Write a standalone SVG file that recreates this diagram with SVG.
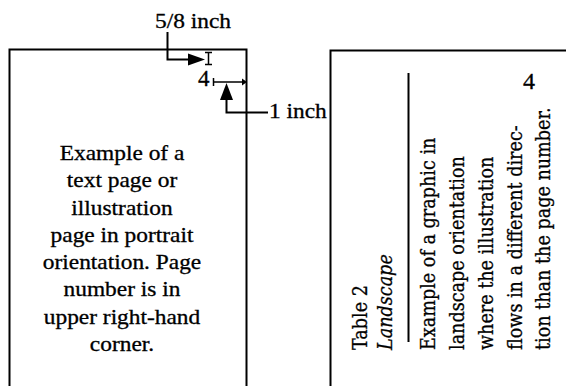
<svg xmlns="http://www.w3.org/2000/svg" width="566" height="386" viewBox="0 0 566 386">
  <defs>
    <style>
      .page { fill: none; stroke: #000; stroke-width: 2; }
      .ln { fill: none; stroke: #000; stroke-width: 2; }
      .thin { fill: none; stroke: #000; stroke-width: 1.5; }
      .head { fill: #000; stroke: none; }
      text { fill: #000; stroke: #000; stroke-width: 0.3; }
      .t { font-family: 'Liberation Serif', 'Times New Roman', serif; font-size: 20px; }
      .r { font-family: 'DejaVu Serif', 'Liberation Serif', serif; font-size: 20px; }
    </style>
  </defs>
  <rect width="566" height="386" fill="#fff"/>

  <g id="portrait-page">
    <path class="page" d="M9.5,386 V49.5 H246.5 V386"/>
    <text class="t" x="198" y="86" style="font-size:23px">4</text>
    <g transform="translate(122,0) scale(1.17,1)" text-anchor="middle">
      <text class="t" x="0" y="160">Example of a</text>
      <text class="t" x="0" y="187.3">text page or</text>
      <text class="t" x="0" y="214.6">illustration</text>
      <text class="t" x="0" y="241.9">page in portrait</text>
      <text class="t" x="0" y="269.2">orientation. Page</text>
      <text class="t" x="0" y="296.5">number is in</text>
      <text class="t" x="0" y="323.8">upper right-hand</text>
      <text class="t" x="0" y="351.1">corner.</text>
    </g>
  </g>

  <g id="landscape-page">
    <path class="page" d="M330.5,386 V50.5 H566"/>
    <text class="t" x="523" y="89" style="font-size:24px">4</text>
    <line class="ln" x1="408.5" y1="73" x2="408.5" y2="342"/>
    <g transform="translate(366.5,350) rotate(-90) scale(0.88,1)"><text class="r" x="0" y="0">Table 2</text></g>
    <g transform="translate(391.5,350) rotate(-90) scale(0.88,1)"><text class="r" x="0" y="0" font-style="italic">Landscape</text></g>
    <g transform="translate(435,350) rotate(-90) scale(0.88,1)"><text class="r" x="0" y="0">Example of a graphic in</text></g>
    <g transform="translate(464,350) rotate(-90) scale(0.88,1)"><text class="r" x="0" y="0">landscape orientation</text></g>
    <g transform="translate(492.7,350) rotate(-90) scale(0.88,1)"><text class="r" x="0" y="0">where the illustration</text></g>
    <g transform="translate(521.7,350) rotate(-90) scale(0.88,1)"><text class="r" x="0" y="0">flows in a different direc-</text></g>
    <g transform="translate(550,350) rotate(-90) scale(0.88,1)"><text class="r" x="0" y="0">tion than the page number.</text></g>
  </g>

  <g id="label-five-eighths">
    <text class="t" transform="translate(155,28) scale(1.17,1)" x="0" y="0">5/8 inch</text>
  </g>
  <g id="label-one-inch">
    <text class="t" transform="translate(269,118) scale(1.17,1)" x="0" y="0">1 inch</text>
  </g>

  <g id="connectors">
    <path class="ln" d="M167.5,32 V59.5 H190"/>
    <polygon class="head" points="205,59.5 188,53.5 188,65.5"/>
    <path class="thin" d="M205,52.5 H212 M208.5,52.5 V64.5 M205,64.5 H212"/>
    <path class="thin" d="M213.5,78 V86 M213.5,82 H244"/>
    <polygon class="head" points="247,82 242,78.5 242,85.5"/>
    <polygon class="head" points="226.5,83 220,100 233,100"/>
    <path class="ln" d="M226.5,99 V112.5 H268"/>
  </g>
</svg>
